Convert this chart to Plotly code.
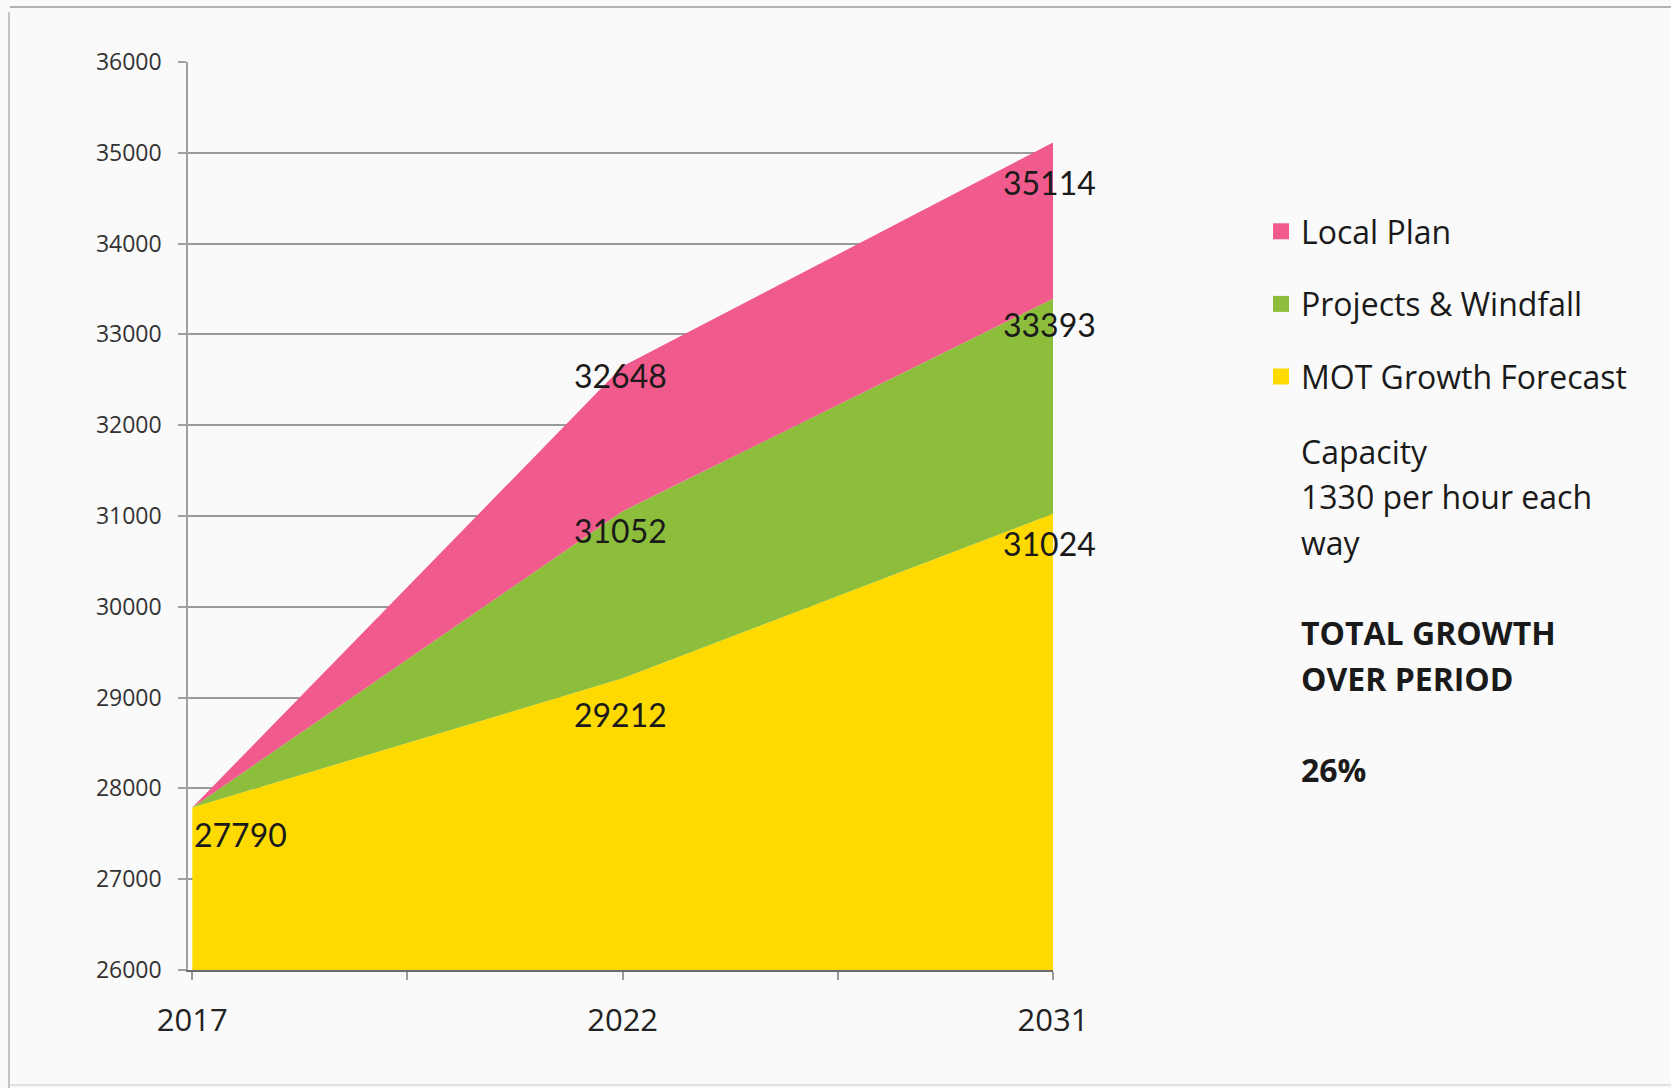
import plotly.graph_objects as go

# ---- data ----
years = ["2017", "2022", "2031"]
mot_growth = [27790, 29212, 31024]          # MOT Growth Forecast (cumulative top)
projects_windfall = [27790, 31052, 33393]   # + Projects & Windfall (cumulative top)
local_plan = [27790, 32648, 35114]          # + Local Plan (cumulative top)
y_ticks = [26000, 27000, 28000, 29000, 30000, 31000, 32000, 33000, 34000, 35000, 36000]
series_names = ["MOT Growth Forecast", "Projects & Windfall", "Local Plan"]
side_lines = ["Capacity", "1330 per hour each", "way"]
growth_lines = ["TOTAL GROWTH", "OVER PERIOD"]
growth_value = "26%"

# ---- style ----
W, H = 1671, 1088
L, R, T, B = 188, 1053, 62, 970   # plot area in pixels
colors = {"MOT Growth Forecast": "#FFDA00",
          "Projects & Windfall": "#8CBE3C",
          "Local Plan": "#F05A8C"}
BG = "#FAFAFA"
TXT = "#1a1a1a"

def px_x(p):
    return (p - L) / (R - L)

def px_y(p):
    return (B - p) / (B - T)

xi = list(range(len(years)))
fig = go.Figure()

tops = [mot_growth, projects_windfall, local_plan]
for k, (name, vals) in enumerate(zip(series_names, tops)):
    fig.add_trace(go.Scatter(
        x=xi, y=vals, mode="none", name=name,
        fill="tozeroy" if k == 0 else "tonexty",
        fillcolor=colors[name], showlegend=False, hoverinfo="x+y"))

# legend entries (square swatches), top-to-bottom order as in reference
for name in reversed(series_names):
    fig.add_trace(go.Scatter(
        x=[None], y=[None], mode="markers", name=name, legendgroup=name,
        marker=dict(symbol="square", size=17, color=colors[name])))

# data labels
label_offsets = {  # vertical offset (px, downward) of label centre from the point
    "MOT Growth Forecast": [27, 36, 30],
    "Projects & Windfall": [None, 19, 26],
    "Local Plan": [None, 9, 40],
}
x_shift = [0, -2, -4]
for name, vals in zip(series_names, tops):
    for i, v in enumerate(vals):
        off = label_offsets[name][i]
        if off is None:
            continue
        fig.add_annotation(
            x=xi[i], y=v, text=str(v), showarrow=False,
            xanchor="left" if i == 0 else "center", yanchor="middle",
            xshift=x_shift[i], yshift=-off,
            font=dict(family="Lato", size=32, color=TXT))

# side text
side_y = [451, 496, 542]
for s, yy in zip(side_lines, side_y):
    fig.add_annotation(xref="paper", yref="paper", x=px_x(1299), y=px_y(yy),
                       text=s, showarrow=False, xanchor="left", yanchor="middle",
                       font=dict(family="Open Sans", size=32, color=TXT))
growth_y = [632, 678]
for s, yy in zip(growth_lines, growth_y):
    fig.add_annotation(xref="paper", yref="paper", x=px_x(1299), y=px_y(yy),
                       text=f"<b>{s}</b>", showarrow=False, xanchor="left", yanchor="middle",
                       font=dict(family="Open Sans", size=32, color=TXT))
fig.add_annotation(xref="paper", yref="paper", x=px_x(1299), y=px_y(769),
                   text=f"<b>{growth_value}</b>", showarrow=False, xanchor="left", yanchor="middle",
                   font=dict(family="Open Sans", size=32, color=TXT))

# frame
fig.add_shape(type="line", xref="paper", yref="paper", x0=px_x(9), x1=px_x(9),
              y0=px_y(12), y1=px_y(1088), line=dict(color="#c4c4c4", width=2))
fig.add_shape(type="line", xref="paper", yref="paper", x0=px_x(10), x1=px_x(1671),
              y0=px_y(7), y1=px_y(7), line=dict(color="#9a9a9a", width=1.5))
fig.add_shape(type="line", xref="paper", yref="paper", x0=px_x(10), x1=px_x(1671),
              y0=px_y(1085), y1=px_y(1085), line=dict(color="#d8d8d8", width=1.5))

fig.update_layout(
    width=W, height=H,
    margin=dict(l=L, r=W - R, t=T, b=H - B),
    paper_bgcolor=BG, plot_bgcolor=BG,
    showlegend=True,
    legend=dict(x=px_x(1261), y=px_y(204), xanchor="left", yanchor="top",
                font=dict(family="Open Sans", size=32, color=TXT),
                traceorder="grouped", tracegroupgap=28,
                bgcolor="rgba(0,0,0,0)", itemwidth=30),
    xaxis=dict(range=[-0.01, 2], tickvals=[0, 0.5, 1, 1.5, 2],
               ticktext=[years[0], "", years[1], "", years[2]],
               showgrid=False, zeroline=False, showline=True,
               linecolor="#6a6a6a", linewidth=1.5,
               ticks="outside", ticklen=8, tickcolor="#9a9a9a", tickwidth=1.5,
               ticklabelstandoff=14,
               tickfont=dict(family="Open Sans", size=31, color="#222")),
    yaxis=dict(range=[26000, 36000], tickvals=y_ticks,
               ticktext=[str(v) for v in y_ticks],
               showgrid=True, gridcolor="#9a9a9a", gridwidth=1.5, zeroline=False,
               showline=True, linecolor="#a0a0a0", linewidth=1.5,
               ticks="outside", ticklen=8, tickcolor="#a0a0a0", tickwidth=1.5,
               ticklabelstandoff=12,
               tickfont=dict(family="Open Sans", size=23, color="#333")),
)

fig.write_html("out.html", config={"displayModeBar": False},
               post_script="document.body.style.margin='0';document.body.style.overflow='hidden';")
